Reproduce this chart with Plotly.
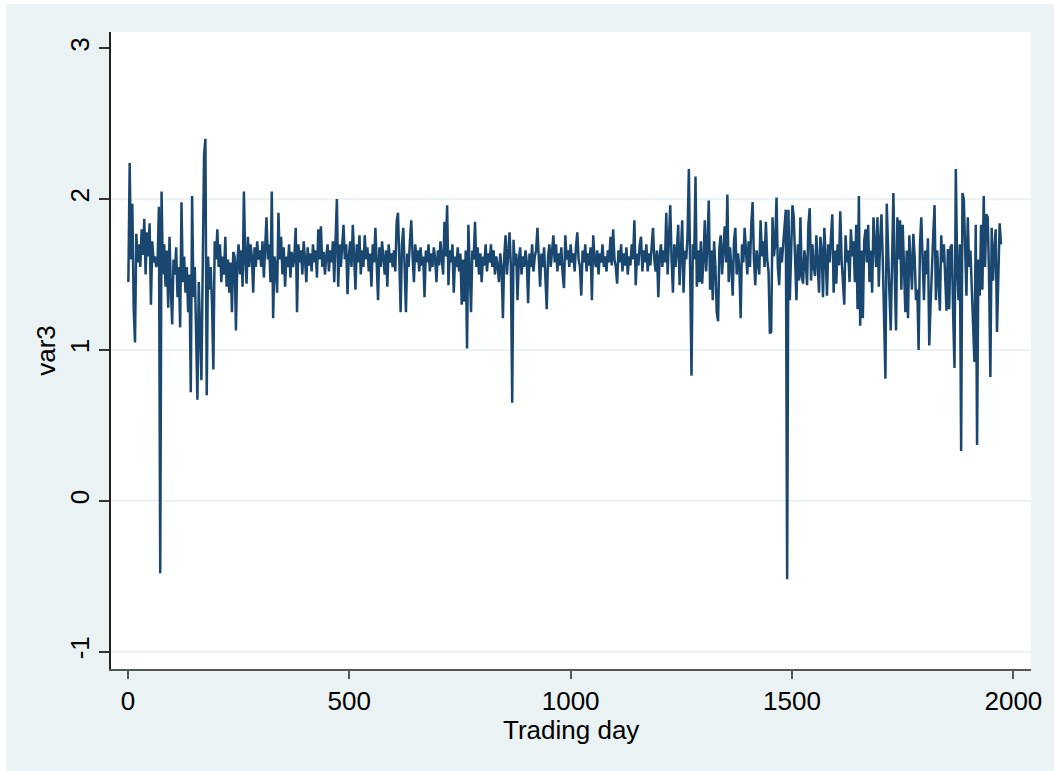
import plotly.graph_objects as go

# Trading day index (every 3rd day sampled)
day_start = 1
day_step = 3

var3 = [
    1.45, 2.24, 1.60, 1.97, 1.28, 1.05, 1.77, 1.58, 1.70, 1.55, 1.80, 1.63, 1.87, 1.50, 1.78, 1.62, 1.84, 1.30, 1.72, 1.58,
    1.62, 1.55, 1.58, 1.95, -0.48, 2.05, 1.50, 1.70, 1.42, 1.66, 1.28, 1.75, 1.40, 1.17, 1.60, 1.50, 1.68, 1.35, 1.55, 1.15,
    1.98, 1.45, 1.62, 1.38, 1.55, 1.25, 1.50, 0.72, 2.02, 1.35, 1.55, 1.20, 0.67, 1.45, 1.08, 0.80, 1.55, 2.29, 2.40, 0.70,
    1.62, 1.40, 1.55, 1.30, 0.87, 1.72, 1.60, 1.80, 1.55, 1.70, 1.45, 1.62, 1.50, 1.75, 1.42, 1.60, 1.38, 1.58, 1.25, 1.65,
    1.62, 1.13, 1.58, 1.70, 1.50, 1.66, 1.42, 2.05, 1.60, 1.44, 1.75, 1.55, 1.70, 1.62, 1.38, 1.68, 1.55, 1.72, 1.60, 1.66,
    1.55, 1.72, 1.48, 1.65, 1.88, 1.60, 1.70, 1.45, 2.05, 1.21, 1.62, 1.55, 1.38, 1.91, 1.60, 1.75, 1.50, 1.68, 1.42, 1.62,
    1.55, 1.70, 1.48, 1.65, 1.55, 1.62, 1.81, 1.25, 1.70, 1.58, 1.66, 1.50, 1.72, 1.60, 1.45, 1.68, 1.56, 1.64, 1.52, 1.70,
    1.58, 1.66, 1.48, 1.80, 1.60, 1.82, 1.55, 1.65, 1.50, 1.62, 1.70, 1.52, 1.66, 1.58, 1.72, 1.45, 1.78, 2.00, 1.42, 1.70,
    1.55, 1.66, 1.83, 1.60, 1.70, 1.37, 1.62, 1.72, 1.55, 1.83, 1.64, 1.40, 1.70, 1.58, 1.76, 1.50, 1.66, 1.55, 1.76, 1.60,
    1.68, 1.52, 1.64, 1.42, 1.70, 1.58, 1.81, 1.60, 1.33, 1.68, 1.55, 1.72, 1.62, 1.50, 1.66, 1.42, 1.70, 1.58, 1.64, 1.55,
    1.66, 1.52, 1.85, 1.91, 1.60, 1.25, 1.70, 1.81, 1.55, 1.25, 1.64, 1.55, 1.72, 1.86, 1.62, 1.45, 1.70, 1.58, 1.66, 1.52,
    1.68, 1.56, 1.62, 1.35, 1.66, 1.58, 1.70, 1.52, 1.64, 1.55, 1.68, 1.60, 1.45, 1.66, 1.56, 1.72, 1.60, 1.50, 1.85, 1.62,
    1.96, 1.43, 1.66, 1.58, 1.70, 1.38, 1.62, 1.55, 1.68, 1.52, 1.64, 1.30, 1.60, 1.32, 1.66, 1.01, 1.83, 1.58, 1.25, 1.66,
    1.60, 1.85, 1.55, 1.68, 1.50, 1.64, 1.45, 1.62, 1.56, 1.70, 1.52, 1.64, 1.58, 1.70, 1.55, 1.66, 1.50, 1.62, 1.56, 1.45,
    1.64, 1.55, 1.21, 1.62, 1.76, 1.50, 1.66, 1.78, 1.55, 0.65, 1.73, 1.56, 1.64, 1.33, 1.60, 1.68, 1.50, 1.62, 1.55, 1.66,
    1.58, 1.31, 1.64, 1.55, 1.70, 1.52, 1.62, 1.66, 1.81, 1.58, 1.42, 1.64, 1.55, 1.68, 1.50, 1.27, 1.62, 1.70, 1.55, 1.64,
    1.76, 1.58, 1.70, 1.52, 1.64, 1.56, 1.68, 1.50, 1.41, 1.76, 1.60, 1.66, 1.55, 1.70, 1.58, 1.64, 1.52, 1.68, 1.78, 1.60,
    1.55, 1.36, 1.66, 1.58, 1.70, 1.52, 1.64, 1.56, 1.68, 1.33, 1.76, 1.60, 1.55, 1.66, 1.50, 1.64, 1.58, 1.70, 1.55, 1.62,
    1.52, 1.66, 1.58, 1.75, 1.56, 1.80, 1.60, 1.55, 1.44, 1.66, 1.58, 1.70, 1.52, 1.64, 1.56, 1.68, 1.50, 1.62, 1.56, 1.70,
    1.60, 1.86, 1.43, 1.64, 1.56, 1.70, 1.75, 1.52, 1.66, 1.58, 1.70, 1.52, 1.64, 1.56, 1.68, 1.81, 1.60, 1.52, 1.66, 1.35,
    1.62, 1.70, 1.55, 1.66, 1.58, 1.91, 1.50, 1.72, 1.96, 1.60, 1.38, 1.70, 1.55, 1.66, 1.83, 1.43, 1.70, 1.86, 1.38, 1.66,
    1.60, 1.75, 2.20, 1.55, 0.83, 1.70, 1.60, 2.15, 1.42, 1.66, 1.45, 1.72, 1.44, 1.60, 1.86, 1.52, 1.70, 1.99, 1.40, 1.66,
    1.33, 1.72, 1.55, 1.25, 1.19, 1.68, 1.76, 1.50, 1.64, 1.82, 1.58, 2.03, 1.45, 1.68, 1.55, 1.36, 1.72, 1.81, 1.50, 1.64,
    1.55, 1.21, 1.70, 1.58, 1.81, 1.62, 1.50, 1.72, 1.55, 1.83, 1.98, 1.60, 1.43, 1.66, 1.56, 1.50, 1.86, 1.62, 1.72, 1.55,
    1.85, 1.60, 1.52, 1.11, 1.12, 1.88, 1.62, 1.70, 2.01, 1.55, 1.43, 1.68, 1.58, 1.72, 1.86, 1.93, -0.52, 1.93, 1.33, 1.72,
    1.96, 1.88, 1.55, 1.33, 1.70, 1.46, 1.88, 1.49, 1.44, 1.66, 1.58, 1.43, 1.83, 1.94, 1.46, 1.70, 1.55, 1.49, 1.76, 1.60,
    1.38, 1.75, 1.66, 1.35, 1.81, 1.62, 1.36, 1.70, 1.58, 1.75, 1.90, 1.38, 1.66, 1.44, 1.70, 1.56, 1.92, 1.60, 1.48, 1.30,
    1.76, 1.58, 1.66, 1.45, 1.80, 1.62, 1.72, 1.45, 1.83, 1.27, 2.02, 1.16, 1.66, 1.21, 1.72, 1.80, 1.58, 1.83, 1.45, 1.66,
    1.38, 1.88, 1.70, 1.55, 1.88, 1.42, 1.72, 1.90, 1.60, 1.07, 0.81, 1.97, 1.56, 1.38, 1.13, 1.75, 2.04, 1.50, 1.13, 1.88,
    1.60, 1.86, 1.40, 1.83, 1.60, 1.25, 1.66, 1.21, 1.76, 1.55, 1.40, 1.77, 1.62, 1.33, 1.40, 1.00, 1.70, 1.88, 1.55, 1.33,
    1.66, 1.50, 1.74, 1.03, 1.30, 1.62, 1.76, 1.96, 1.33, 1.66, 1.50, 1.26, 1.76, 1.58, 1.70, 1.43, 1.26, 1.67, 1.27, 1.68,
    1.70, 1.23, 0.88, 2.20, 1.55, 1.33, 1.70, 0.33, 2.04, 2.00, 1.60, 1.36, 1.88, 1.55, 1.66, 1.36, 1.20, 0.92, 1.83, 0.37,
    1.60, 1.36, 1.83, 1.40, 2.02, 1.55, 1.90, 1.88, 1.50, 0.82, 1.81, 1.46, 1.66, 1.80, 1.12, 1.60, 1.84, 1.70,
]

trading_day = [day_start + day_step * i for i in range(len(var3))]

x_ticks = [0, 500, 1000, 1500, 2000]
y_ticks = [-1, 0, 1, 2, 3]
y_grid = [-1, 0, 1, 2]

BG = "#EAF2F3"
LINE = "#1A476F"
FONT = "Liberation Sans, Arial, sans-serif"

fig = go.Figure()
fig.add_trace(go.Scatter(
    x=trading_day, y=var3, mode="lines",
    line=dict(color=LINE, width=2.5),
    showlegend=False, hoverinfo="skip",
))

W, H = 1054, 771
L, R, T, B = 111, 19, 32, 102
pw, ph = W - L - R, H - T - B

shapes = [
    dict(type="rect", xref="paper", yref="paper", layer="below",
         x0=(6 - L) / pw, x1=(W - L) / pw + 0.01,
         y0=-B / ph - 0.01, y1=(ph + T - 4) / ph,
         fillcolor=BG, line=dict(width=0)),
    dict(type="rect", xref="paper", yref="paper", layer="below",
         x0=0, x1=1, y0=0, y1=1,
         fillcolor="white", line=dict(width=0)),
]
for g in y_grid:
    shapes.append(dict(type="line", xref="paper", yref="y", layer="below",
                       x0=0, x1=1, y0=g, y1=g,
                       line=dict(color=BG, width=2)))

title_center_px = 730
fig.update_layout(
    width=W, height=H,
    margin=dict(l=L, r=R, t=T, b=B, pad=0),
    paper_bgcolor="white",
    plot_bgcolor="white",
    font=dict(family=FONT, size=26, color="black"),
    shapes=shapes,
    annotations=[
        dict(text="Trading day", xref="x", yref="paper", x=1000,
             y=-(title_center_px - (T + ph)) / ph,
             xanchor="center", yanchor="middle", showarrow=False,
             borderpad=0,
             font=dict(size=26, family=FONT, color="black")),
    ],
)

fig.update_xaxes(
    range=[-38.2, 2039.8],
    tickvals=x_ticks, ticktext=[str(v) for v in x_ticks],
    ticks="outside", ticklen=8, tickwidth=1.5, tickcolor="#555555",
    showline=True, linecolor="#555555", linewidth=1.5,
    showgrid=False, zeroline=False,
    tickfont=dict(size=26, family=FONT, color="black"),
)
fig.update_yaxes(
    range=[-1.115, 3.108],
    tickvals=y_ticks, ticktext=[str(v) for v in y_ticks],
    tickangle=-90,
    ticks="outside", ticklen=10, tickwidth=1.5, tickcolor="#333333",
    showline=True, linecolor="#222222", linewidth=1.5,
    showgrid=False, zeroline=False,
    tickfont=dict(size=26, family=FONT, color="black"),
    title=dict(text="var3", font=dict(size=26, family=FONT, color="black"), standoff=2),
)

fig.write_html("out.html")
